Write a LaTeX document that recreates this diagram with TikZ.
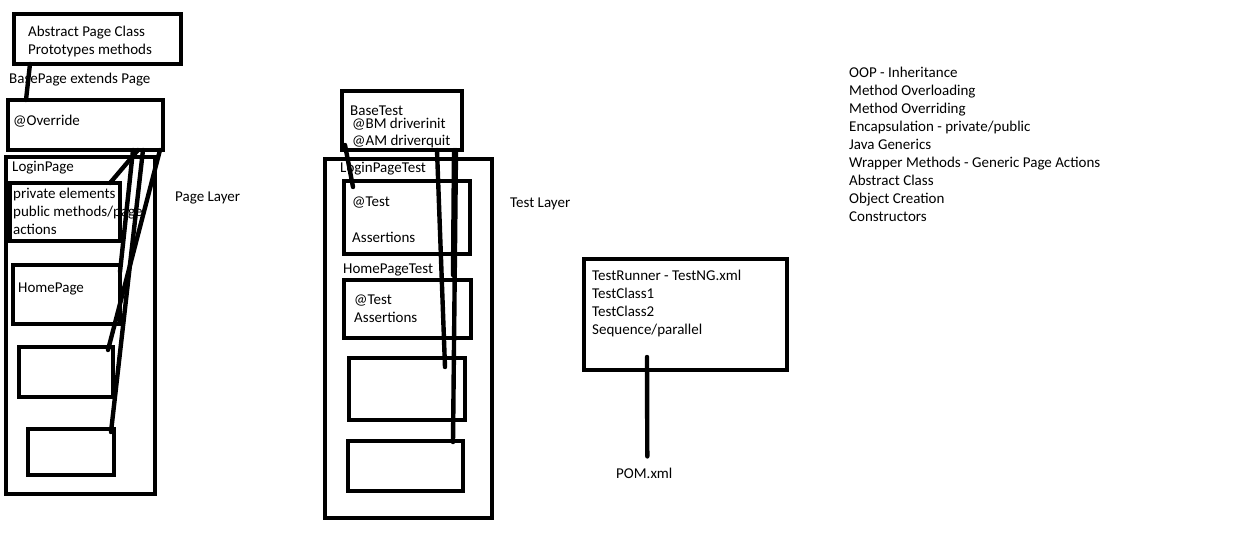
\documentclass[tikz,border=0pt]{standalone}
\usepackage{fontspec}
\setmainfont{Carlito}
\usetikzlibrary{calc}

\begin{document}
\begin{tikzpicture}[x=1pt,y=-1pt]
\tikzstyle{box}=[draw, line width=4.6pt, inner sep=0pt, outer sep=0pt, anchor=north west];
\tikzstyle{txt}=[inner sep=0pt, anchor=base west, font=\fontsize{15pt}{18pt}\selectfont];
\tikzstyle{wire}=[line width=4.4pt, line cap=round];

  \useasboundingbox (0,0) rectangle (1241,547);

  % boxes: name/x/y/width/height
  \foreach \name/\x/\y/\w/\h in {abs/14/14/167/50, over/8/100/155/50,
      login/6/157/149/337, priv/10/183/110/58, home/13/265/107/59,
      pbox3/19/347/94/50, pbox4/28/429/86/46,
      base/342/91/120/59, ltest/325/159/167/359, tbox1/344/181/126/73,
      tbox2/344/280/127/58, tbox3/349/358/116/62, tbox4/348/441/115/50,
      runner/584/259/203/111}
    \node[box, minimum width=\w pt, minimum height=\h pt] (\name) at (\x,\y) {};

  % page layer
  \node[txt] (absa) at (28,36) {Abstract Page Class};
  \node[txt] (absb) at (28,54) {Prototypes methods};
  \node[txt] (extends) at (9,83) {BasePage extends Page};
  \node[txt] (overtxt) at (13,125) {@Override};
  \node[txt] (logintxt) at (12,171) {LoginPage};
  \node[txt] (priva) at (13,198) {private elements};
  \node[txt] (privb) at (13,216) {public methods/page};
  \node[txt] (privc) at (13,234) {actions};
  \node[txt] (hometxt) at (18,292) {HomePage};
  \node[txt] (pagelayer) at (175,201) {Page Layer};

  % test layer
  \node[txt] (basetxt) at (350,115) {BaseTest};
  \node[txt] (bm) at (352,128) {@BM driverinit};
  \node[txt] (am) at (352,145) {@AM driverquit};
  \node[txt] (ltesttxt) at (340,172) {LoginPageTest};
  \node[txt] (testa) at (352,206) {@Test};
  \node[txt] (asserta) at (352,242) {Assertions};
  \node[txt] (htesttxt) at (343,273) {HomePageTest};
  \node[txt] (testb) at (354,304) {@Test};
  \node[txt] (assertb) at (354,322) {Assertions};
  \node[txt] (testlayer) at (510,207) {Test Layer};

  % runner
  \foreach \t [count=\i] in {TestRunner - TestNG.xml, TestClass1, TestClass2, Sequence/parallel}
    \node[txt] (run\i) at (592,262+18*\i) {\t};
  \node[txt] (pom) at (616,478) {POM.xml};

  % topics
  \foreach \t [count=\i] in {OOP - Inheritance, Method Overloading, Method Overriding,
      Encapsulation - private/public, Java Generics, Wrapper Methods - Generic Page Actions,
      Abstract Class, Object Creation, Constructors}
    \node[txt] (topic\i) at (849,59+18*\i) {\t};

  % connectors
  \draw[wire] ($(abs.south west)+(16,0)$) -- ($(over.north west)+(18,0)$);
  \draw[wire] ($(over.south east)+(-25,0)$) -- ($(priv.north east)+(-10,0)$);
  \draw[wire] ($(over.south east)+(-30,0)$) -- ($(home.north east)+(0,7)$);
  \draw[wire] ($(over.south east)+(-3,0)$) -- ($(pbox3.north east)+(-5,3)$);
  \draw[wire] ($(over.south east)+(-20,0)$) -- ($(pbox4.north east)+(-3,3)$);

  \draw[wire] ($(base.south west)+(3,-5)$) -- ($(tbox1.north west)+(9,6)$);
  \draw[wire] ($(base.south east)+(-25,0)$) -- ($(tbox3.north east)+(-20,9)$);
  \draw[wire] ($(base.south east)+(-8,0)$) -- ($(tbox2.north east)+(-18,-5)$);
  \draw[wire] ($(base.south east)+(-6,0)$) -- ($(tbox4.north east)+(-10,1)$);

  \draw[wire] ($(runner.south west)+(63,-13)$) -- ($(pom.north)+(3,-11)$);

\end{tikzpicture}
\end{document}
